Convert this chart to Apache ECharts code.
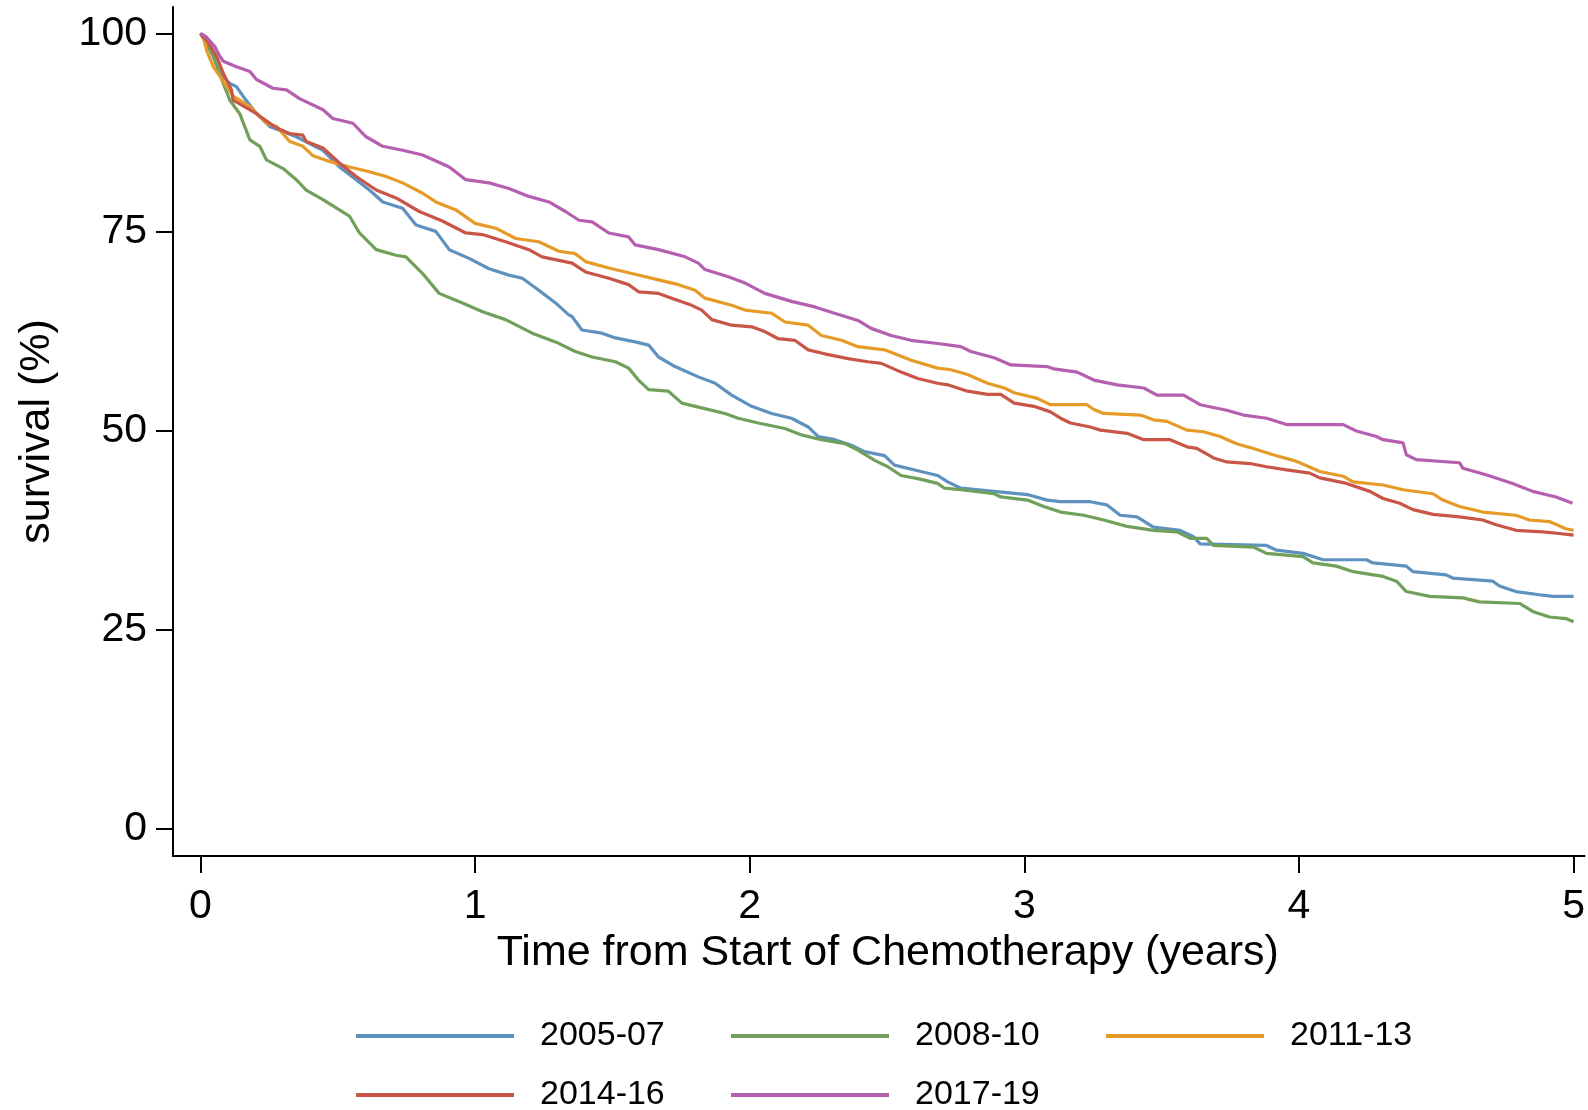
<!DOCTYPE html>
<html>
<head>
<meta charset="utf-8">
<title>Survival by period of chemotherapy start</title>
<script src="https://cdn.jsdelivr.net/npm/echarts@6/dist/echarts.min.js"></script>
<style>
  html, body { margin: 0; padding: 0; background: #ffffff; }
  #chart { width: 1588px; height: 1110px; }
</style>
</head>
<body>
<div id="chart"></div>
<script>
// Kaplan-Meier survival estimates: [years since start of chemotherapy, survival %]
const periods = ['2005-07', '2008-10', '2011-13', '2014-16', '2017-19'];

const surv2005_07 = [
  [0,100],[0.03,98.5],[0.071,95.0],[0.107,93.7],[0.131,93.3],[0.155,92.1],[0.204,89.9],[0.252,88.3],
  [0.349,87.0],[0.446,85.3],[0.506,83.2],[0.567,81.6],[0.615,80.3],[0.664,78.8],[0.736,78.0],[0.785,75.9],
  [0.857,75.1],[0.906,72.8],[0.978,71.7],[1.051,70.4],[1.123,69.6],[1.172,69.2],[1.232,67.7],[1.293,66.1],
  [1.341,64.6],[1.353,64.4],[1.389,62.7],[1.462,62.3],[1.511,61.7],[1.583,61.2],[1.632,60.8],[1.668,59.3],
  [1.728,58.1],[1.813,56.8],[1.874,56.0],[1.934,54.5],[2.007,53.1],[2.08,52.2],[2.152,51.6],[2.213,50.5],
  [2.249,49.3],[2.31,48.9],[2.37,48.2],[2.418,47.4],[2.491,46.9],[2.527,45.7],[2.612,45.0],[2.684,44.4],
  [2.721,43.6],[2.769,42.8],[2.89,42.4],[3.011,42.0],[3.083,41.3],[3.132,41.1],[3.24,41.1],[3.301,40.7],
  [3.349,39.4],[3.41,39.2],[3.47,37.9],[3.567,37.5],[3.616,36.7],[3.64,35.8],[3.882,35.6],[3.918,35.0],
  [4.015,34.6],[4.088,33.8],[4.245,33.8],[4.27,33.4],[4.391,33.0],[4.415,32.3],[4.536,31.9],[4.56,31.5],
  [4.706,31.1],[4.73,30.5],[4.79,29.8],[4.875,29.4],[4.924,29.2],[5.0,29.2]
];

const surv2008_10 = [
  [0,100],[0.02,98.8],[0.047,97.1],[0.083,93.7],[0.107,91.6],[0.143,89.9],[0.18,86.6],[0.216,85.8],
  [0.24,84.1],[0.301,83.0],[0.349,81.6],[0.385,80.3],[0.446,79.1],[0.506,77.8],[0.543,77.0],[0.579,74.9],
  [0.64,72.8],[0.712,72.1],[0.748,71.9],[0.809,69.8],[0.869,67.3],[0.954,66.1],[1.027,65.0],[1.111,64.0],
  [1.208,62.3],[1.293,61.2],[1.365,60.0],[1.426,59.3],[1.511,58.7],[1.559,57.9],[1.595,56.4],[1.632,55.2],
  [1.704,55.0],[1.753,53.5],[1.825,52.9],[1.91,52.2],[1.958,51.6],[2.031,51.0],[2.128,50.3],[2.189,49.5],
  [2.261,48.9],[2.346,48.4],[2.394,47.6],[2.455,46.3],[2.503,45.5],[2.551,44.4],[2.612,44.0],[2.684,43.4],
  [2.709,42.8],[2.769,42.6],[2.89,42.1],[2.914,41.7],[3.011,41.3],[3.071,40.5],[3.132,39.8],[3.216,39.4],
  [3.289,38.8],[3.374,38.0],[3.47,37.5],[3.555,37.3],[3.604,36.5],[3.664,36.5],[3.689,35.6],[3.834,35.4],
  [3.882,34.6],[4.015,34.2],[4.051,33.4],[4.136,33.0],[4.197,32.3],[4.306,31.7],[4.355,31.1],[4.391,29.8],
  [4.476,29.2],[4.597,29.0],[4.657,28.5],[4.803,28.3],[4.851,27.3],[4.912,26.6],[4.972,26.4],[5.0,26.0]
];

const surv2011_13 = [
  [0,100],[0.01,99.6],[0.022,97.9],[0.047,95.8],[0.071,94.6],[0.119,92.1],[0.18,90.8],[0.24,88.7],
  [0.277,88.3],[0.325,86.4],[0.373,85.8],[0.41,84.6],[0.47,83.9],[0.543,83.2],[0.615,82.6],[0.676,82.0],
  [0.736,81.2],[0.809,79.9],[0.857,78.8],[0.93,77.8],[1.0,76.1],[1.075,75.5],[1.148,74.2],[1.232,73.8],
  [1.305,72.6],[1.365,72.3],[1.402,71.3],[1.487,70.5],[1.571,69.8],[1.668,69.0],[1.741,68.4],[1.801,67.7],
  [1.837,66.7],[1.934,65.8],[1.983,65.2],[2.08,64.8],[2.128,63.7],[2.213,63.3],[2.261,62.0],[2.334,61.4],
  [2.394,60.6],[2.491,60.2],[2.588,58.9],[2.684,57.9],[2.733,57.7],[2.793,57.1],[2.866,56.0],[2.927,55.4],
  [2.963,54.8],[3.047,54.1],[3.095,53.3],[3.228,53.3],[3.253,52.7],[3.289,52.2],[3.422,52.0],[3.47,51.4],
  [3.519,51.2],[3.592,50.1],[3.652,49.9],[3.713,49.3],[3.773,48.4],[3.834,47.8],[3.906,47.0],[3.979,46.3],
  [4.003,46.0],[4.076,44.9],[4.161,44.3],[4.197,43.6],[4.306,43.2],[4.379,42.6],[4.488,42.1],[4.524,41.3],
  [4.585,40.5],[4.669,39.8],[4.79,39.4],[4.839,38.8],[4.912,38.6],[4.972,37.7],[5.0,37.5]
];

const surv2014_16 = [
  [0,100],[0.03,98.8],[0.06,97.0],[0.083,95.0],[0.113,92.9],[0.119,91.6],[0.204,89.9],[0.277,88.1],
  [0.325,87.4],[0.373,87.2],[0.385,86.4],[0.446,85.6],[0.506,83.7],[0.567,82.0],[0.64,80.3],[0.712,79.3],
  [0.797,77.6],[0.881,76.4],[0.966,74.9],[1.027,74.7],[1.111,73.8],[1.196,72.8],[1.244,71.9],[1.353,71.1],
  [1.402,70.0],[1.487,69.2],[1.559,68.4],[1.595,67.5],[1.668,67.3],[1.716,66.7],[1.789,65.8],[1.825,65.2],
  [1.862,64.0],[1.934,63.3],[2.007,63.1],[2.055,62.5],[2.104,61.6],[2.164,61.4],[2.213,60.2],[2.273,59.7],
  [2.358,59.1],[2.43,58.7],[2.479,58.5],[2.551,57.4],[2.612,56.6],[2.684,56.0],[2.721,55.8],[2.793,55.0],
  [2.866,54.6],[2.914,54.6],[2.963,53.5],[3.035,53.1],[3.095,52.4],[3.132,51.6],[3.168,51.0],[3.24,50.5],
  [3.277,50.1],[3.374,49.7],[3.435,48.9],[3.531,48.9],[3.592,48.0],[3.628,47.8],[3.689,46.6],[3.737,46.1],
  [3.822,45.9],[3.882,45.5],[3.955,45.1],[4.039,44.7],[4.076,44.1],[4.173,43.4],[4.258,42.4],[4.306,41.5],
  [4.367,40.9],[4.415,40.1],[4.488,39.5],[4.585,39.2],[4.669,38.8],[4.718,38.2],[4.79,37.5],[4.887,37.3],
  [4.948,37.1],[5.0,36.9]
];

const surv2017_19 = [
  [0,100],[0.02,99.6],[0.053,98.3],[0.071,97.1],[0.083,96.5],[0.131,95.8],[0.18,95.2],[0.204,94.2],
  [0.264,93.1],[0.313,92.9],[0.361,91.8],[0.446,90.4],[0.482,89.3],[0.555,88.7],[0.603,87.0],[0.664,85.8],
  [0.736,85.3],[0.809,84.7],[0.906,83.2],[0.966,81.6],[1.051,81.2],[1.123,80.5],[1.196,79.5],[1.269,78.8],
  [1.329,77.6],[1.378,76.5],[1.426,76.3],[1.487,74.9],[1.559,74.4],[1.583,73.4],[1.668,72.8],[1.765,71.9],
  [1.813,71.1],[1.837,70.3],[1.922,69.4],[1.983,68.6],[2.055,67.3],[2.152,66.3],[2.237,65.6],[2.309,64.8],
  [2.394,63.9],[2.442,62.9],[2.515,62.0],[2.587,61.4],[2.684,61.0],[2.769,60.6],[2.805,60.0],[2.89,59.2],
  [2.951,58.3],[3.083,58.1],[3.108,57.8],[3.192,57.4],[3.253,56.4],[3.338,55.8],[3.435,55.4],[3.483,54.5],
  [3.58,54.5],[3.64,53.3],[3.737,52.6],[3.798,52.0],[3.882,51.6],[3.955,50.8],[4.161,50.8],[4.209,50.0],
  [4.282,49.3],[4.306,48.9],[4.379,48.5],[4.391,47.0],[4.427,46.4],[4.585,46.0],[4.597,45.3],[4.681,44.5],
  [4.778,43.4],[4.851,42.4],[4.936,41.7],[4.996,40.9]
];

const xTicks = [0, 1, 2, 3, 4, 5];
const yTicks = [0, 25, 50, 75, 100];
const lineColors = ['#5f91be', '#70a05a', '#e69b28', '#c85546', '#b45faf'];

const seriesData = [surv2005_07, surv2008_10, surv2011_13, surv2014_16, surv2017_19];
const FONT = '"Liberation Sans", Arial, Helvetica, sans-serif';

const chart = echarts.init(document.getElementById('chart'), null, { renderer: 'canvas' });

function legendRow(names, top) {
  return {
    data: names,
    left: 351,
    top: top,
    orient: 'horizontal',
    icon: 'rect',
    itemWidth: 158,
    itemHeight: 4,
    itemGap: 41,
    selectedMode: false,
    textStyle: {
      fontFamily: FONT,
      fontSize: 34,
      color: '#000',
      width: 150,
      lineHeight: 40,
      padding: [0, 0, 0, 21]
    }
  };
}

chart.setOption({
  animation: false,
  backgroundColor: '#ffffff',
  grid: { left: 173, right: 0, top: 7, bottom: 254, containLabel: false },
  xAxis: {
    type: 'value',
    min: -0.1,
    max: 5.04,
    name: 'Time from Start of Chemotherapy (years)',
    nameLocation: 'middle',
    nameGap: 71,
    nameTextStyle: { fontFamily: FONT, fontSize: 43, color: '#000', padding: [0, 0, 0, 18] },
    axisLine: { show: true, onZero: false, lineStyle: { color: '#000', width: 2 } },
    axisTick: { show: true, inside: false, length: 17, lineStyle: { color: '#000', width: 2 }, customValues: xTicks },
    axisLabel: { fontFamily: FONT, fontSize: 41, color: '#000', margin: 30, customValues: xTicks },
    splitLine: { show: false }
  },
  yAxis: {
    type: 'value',
    min: -3.46,
    max: 103.32,
    name: 'survival (%)',
    nameLocation: 'middle',
    nameGap: 114,
    nameTextStyle: { fontFamily: FONT, fontSize: 43, color: '#000' },
    axisLine: { show: true, onZero: false, lineStyle: { color: '#000', width: 2 } },
    axisTick: { show: true, inside: false, length: 17, lineStyle: { color: '#000', width: 2 }, customValues: yTicks },
    axisLabel: { fontFamily: FONT, fontSize: 41, color: '#000', margin: 26, customValues: yTicks },
    splitLine: { show: false }
  },
  legend: [
    legendRow(periods.slice(0, 3), 1011),
    legendRow(periods.slice(3), 1070)
  ],
  series: periods.map((name, i) => ({
    name: name,
    type: 'line',
    data: seriesData[i],
    color: lineColors[i],
    showSymbol: false,
    symbol: 'none',
    lineStyle: { width: 3.2, color: lineColors[i] },
    itemStyle: { color: lineColors[i] },
    z: 2 + i
  }))
});
</script>
</body>
</html>
